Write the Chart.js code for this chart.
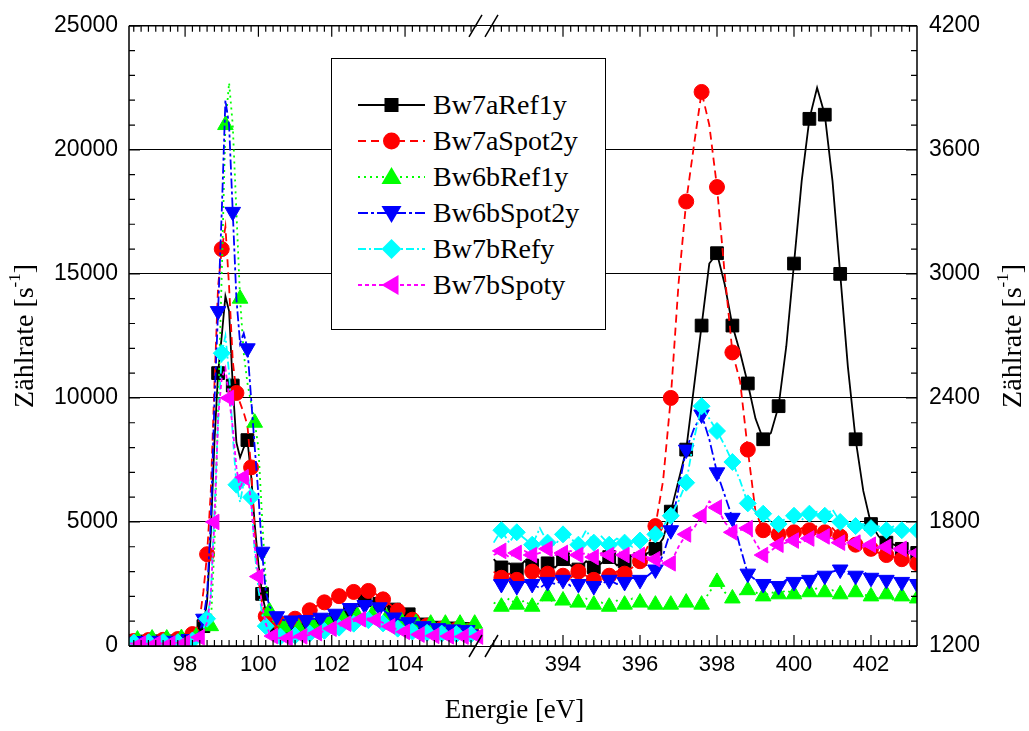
<!DOCTYPE html>
<html lang="de">
<head>
<meta charset="UTF-8">
<title>Zählrate C 1s / N 1s</title>
<style>
  body { margin: 0; background: #fff; }
  #wrap { position: relative; width: 1029px; height: 731px; }
  #grafik { position: absolute; left: 0; top: 0; }
  #legende {
    position: absolute; left: 331px; top: 58px; width: 273px; height: 270px;
    border: 1.5px solid #000; background: #fff;
    font-family: "Liberation Serif", "Times New Roman", serif; font-size: 28px; color: #000;
  }
  .zeile { position: absolute; left: 26px; height: 36px; display: flex; align-items: center; white-space: nowrap; }
  .zeile svg { width: 67px; height: 26px; margin-right: 8px; flex: none; }
</style>
</head>
<body>
<div id="wrap">
  <canvas id="grafik" width="1029" height="731"></canvas>
  <div id="legende"></div>
</div>
<script src="https://cdn.jsdelivr.net/npm/chart.js@4.4.1/dist/chart.umd.min.js"></script>
<script>
// Energiewerte (eV) der beiden Ausschnitte
const energieLinks = [
  96.5,96.6,96.7,96.8,96.9,97.0,97.1,97.2,97.3,97.4,
  97.5,97.6,97.7,97.8,97.9,98.0,98.1,98.2,98.3,98.4,
  98.5,98.6,98.7,98.8,98.9,99.0,99.1,99.2,99.3,99.4,
  99.5,99.6,99.7,99.8,99.9,100.0,100.1,100.2,100.3,100.4,
  100.5,100.6,100.7,100.8,100.9,101.0,101.1,101.2,101.3,101.4,
  101.5,101.6,101.7,101.8,101.9,102.0,102.1,102.2,102.3,102.4,
  102.5,102.6,102.7,102.8,102.9,103.0,103.1,103.2,103.3,103.4,
  103.5,103.6,103.7,103.8,103.9,104.0,104.1,104.2,104.3,104.4,
  104.5,104.6,104.7,104.8,104.9,105.0,105.1,105.2,105.3,105.4,
  105.5,105.6,105.7,105.8,105.9,106.0
];
const energieRechts = [
  392.2,392.4,392.6,392.8,393.0,393.2,393.4,393.6,393.8,394.0,
  394.2,394.4,394.6,394.8,395.0,395.2,395.4,395.6,395.8,396.0,
  396.2,396.4,396.6,396.8,397.0,397.2,397.4,397.6,397.8,398.0,
  398.2,398.4,398.6,398.8,399.0,399.2,399.4,399.6,399.8,400.0,
  400.2,400.4,400.6,400.8,401.0,401.2,401.4,401.6,401.8,402.0,
  402.2,402.4,402.6,402.8,403.0,403.2
];

const namen = ['Bw7aRef1y', 'Bw7aSpot2y', 'Bw6bRef1y', 'Bw6bSpot2y', 'Bw7bRefy', 'Bw7bSpoty'];

// Zählraten linker Bereich (linke Achse, s^-1)
const linksBw7aRef1y = [
  210,190,220,200,180,210,230,200,190,220,
  200,210,190,230,210,220,240,260,300,400,
  800,1800,4500,8200,11000,12500,14100,13500,10500,8200,
  7600,8000,8300,6900,4900,3300,2100,1400,1000,850,
  750,700,680,660,650,650,660,680,710,740,
  780,820,860,910,960,1010,1060,1110,1170,1260,
  1400,1540,1700,1800,1840,1850,1820,1760,1700,1660,
  1600,1540,1470,1420,1380,1350,1280,1180,1060,950,
  870,810,780,760,740,730,720,720,710,700,
  700,690,690,680,690,680
];
const linksBw7aSpot2y = [
  220,200,230,210,200,240,220,210,230,250,
  240,260,250,280,300,320,380,480,640,1100,
  2200,3700,6200,10500,14500,16000,16900,14500,11500,10200,
  9800,9400,8900,7200,4600,2700,1700,1200,1000,920,
  880,900,930,980,1040,1100,1160,1250,1350,1440,
  1530,1620,1700,1760,1830,1900,1960,2010,2060,2100,
  2140,2180,2210,2240,2240,2220,2180,2100,2000,1880,
  1780,1660,1540,1420,1320,1220,1130,1060,1000,940,
  880,820,780,750,720,700,690,680,670,660,
  650,650,640,640,630,630
];
const linksBw6bRef1y = [
  280,300,260,290,310,270,300,280,320,290,
  300,280,310,290,320,300,330,340,380,450,
  600,750,800,4000,9500,15000,21000,22700,21000,17500,
  14000,11800,10600,9800,9000,8000,5200,2600,1400,1000,
  850,780,740,720,710,700,710,720,740,760,
  790,820,860,900,950,1000,1040,1080,1110,1140,
  1170,1200,1220,1240,1250,1260,1250,1230,1200,1170,
  1140,1100,1070,1040,1010,990,970,950,930,920,
  910,900,900,890,890,890,900,890,900,900,
  900,910,900,910,900,910
];
const linksBw6bSpot2y = [
  180,200,190,210,200,190,220,200,210,190,
  200,220,210,230,240,260,280,320,380,600,
  1100,2100,5000,9800,13500,17500,22000,21000,17500,14000,
  12200,12600,12000,10000,8000,6100,3800,2200,1600,1400,
  1200,1080,1040,1030,1030,1040,1040,1040,1050,1070,
  1090,1110,1140,1170,1210,1250,1300,1350,1420,1480,
  1530,1570,1600,1630,1650,1650,1650,1640,1560,1460,
  1340,1240,1150,1080,1040,1000,960,930,900,850,
  800,760,740,730,720,710,700,690,670,650,
  640,640,640,640,640,640
];
const linksBw7bRefy = [
  150,140,160,150,130,150,160,140,150,160,
  150,170,160,150,170,180,200,220,260,400,
  700,1100,2000,5500,9000,11800,12500,11000,8500,6500,
  5800,6600,7000,6000,3800,2300,1300,800,550,450,
  400,380,380,390,400,420,440,460,480,500,
  520,550,580,610,640,670,700,740,780,820,
  860,900,940,980,1010,1040,1030,1000,960,910,
  860,800,750,700,660,630,600,580,560,550,
  540,530,520,510,500,500,490,490,480,480,
  480,470,480,470,480,470
];
const linksBw7bSpoty = [
  100,90,110,100,80,100,110,90,100,110,
  100,90,110,100,120,130,150,180,220,350,
  600,950,2000,5000,9200,10800,11200,10000,8800,7200,
  6300,6800,7000,5800,4000,2800,1600,900,520,400,
  340,320,310,310,320,340,360,390,420,450,
  480,520,560,600,650,700,750,800,850,900,
  950,1000,1050,1080,1100,1110,1090,1050,1000,930,
  860,790,720,660,610,570,530,500,480,460,
  440,430,420,410,400,400,390,390,380,380,
  380,380,370,380,370,380
];

// Zählraten rechter Bereich (rechte Achse, s^-1)
const rechtsBw7aRef1y = [
  1620,1580,1600,1570,1610,1590,1560,1600,1580,1620,
  1590,1570,1610,1580,1600,1630,1590,1610,1640,1620,
  1650,1670,1720,1850,2000,2150,2450,2750,3050,3100,
  2950,2750,2620,2470,2300,2200,2230,2360,2650,3050,
  3450,3750,3900,3770,3450,3000,2550,2200,1950,1790,
  1730,1700,1690,1670,1660,1650
];
const rechtsBw7aSpot2y = [
  1560,1530,1550,1520,1540,1560,1530,1550,1520,1540,
  1530,1560,1540,1520,1550,1540,1560,1550,1580,1610,
  1680,1780,2000,2400,2950,3350,3620,3880,3720,3420,
  3000,2620,2480,2150,1850,1760,1730,1740,1760,1750,
  1770,1760,1780,1750,1770,1730,1710,1690,1680,1670,
  1650,1640,1630,1620,1610,1600
];
const rechtsBw6bRef1y = [
  1410,1390,1430,1400,1420,1390,1410,1440,1400,1420,
  1390,1410,1430,1400,1410,1390,1420,1400,1430,1410,
  1390,1400,1380,1400,1390,1410,1380,1400,1460,1510,
  1460,1430,1450,1470,1460,1440,1460,1450,1470,1450,
  1440,1460,1480,1460,1470,1450,1440,1460,1450,1440,
  1430,1450,1420,1440,1420,1430
];
const rechtsBw6bSpot2y = [
  1520,1500,1530,1490,1510,1500,1480,1510,1500,1520,
  1490,1500,1510,1490,1500,1520,1500,1510,1530,1520,
  1540,1570,1640,1760,1960,2150,2250,2320,2200,2040,
  1930,1820,1680,1550,1520,1500,1510,1490,1520,1510,
  1530,1520,1550,1540,1560,1570,1550,1540,1560,1530,
  1540,1520,1530,1510,1520,1500
];
const rechtsBw7bRefy = [
  1700,1760,1700,1750,1720,1690,1770,1700,1690,1740,
  1720,1690,1760,1700,1730,1690,1720,1700,1680,1710,
  1710,1740,1780,1830,1900,1990,2200,2360,2300,2240,
  2170,2090,2000,1890,1850,1840,1800,1790,1820,1830,
  1810,1840,1850,1830,1860,1800,1790,1780,1790,1770,
  1780,1760,1780,1760,1770,1760
];
const rechtsBw7bSpoty = [
  1640,1660,1630,1650,1660,1640,1650,1670,1640,1650,
  1660,1640,1650,1630,1650,1640,1660,1640,1630,1640,
  1630,1620,1610,1600,1680,1740,1770,1830,1900,1870,
  1800,1750,1760,1770,1700,1640,1660,1690,1700,1710,
  1700,1720,1740,1730,1720,1700,1690,1700,1680,1690,
  1670,1680,1660,1670,1660,1650
];

const werteLinks = [linksBw7aRef1y, linksBw7aSpot2y, linksBw6bRef1y, linksBw6bSpot2y, linksBw7bRefy, linksBw7bSpoty];
const werteRechts = [rechtsBw7aRef1y, rechtsBw7aSpot2y, rechtsBw6bRef1y, rechtsBw6bSpot2y, rechtsBw7bRefy, rechtsBw7bSpoty];

// Achsenbeschriftungen
const tickLinks = [98, 100, 102, 104];
const tickRechts = [394, 396, 398, 400, 402];
const tickYLinks = [0, 5000, 10000, 15000, 20000, 25000];
const tickYRechts = [1200, 1800, 2400, 3000, 3600, 4200];

// Linien- und Symbolstil je Messreihe
const stile = [
  { farbe: '#000000', strich: [],           form: 'rect',     drehung: 0,   radius: 9,   phase: 0, svgStrich: '' },
  { farbe: '#ff0000', strich: [8, 5],       form: 'circle',   drehung: 0,   radius: 7.5, phase: 1, svgStrich: '8 5' },
  { farbe: '#00ff00', strich: [2, 4],       form: 'triangle', drehung: 0,   radius: 9,   phase: 2, svgStrich: '2 4' },
  { farbe: '#0000ff', strich: [10, 3, 3, 3], form: 'triangle', drehung: 180, radius: 9,   phase: 0, svgStrich: '10 3 3 3' },
  { farbe: '#00ffff', strich: [8, 3, 2, 3], form: 'rectRot',  drehung: 0,   radius: 8.5, phase: 1, svgStrich: '8 3 2 3' },
  { farbe: '#ff00ff', strich: [4, 3],       form: 'triangle', drehung: -90, radius: 9,   phase: 3, svgStrich: '4 3' }
];

const sans = "'Liberation Sans', Arial, sans-serif";
const serif = "'Liberation Serif', 'Times New Roman', serif";

const datensaetze = [];
namen.forEach((name, s) => {
  const st = stile[s];
  const basis = {
    label: name,
    borderColor: st.farbe,
    backgroundColor: st.farbe,
    pointBackgroundColor: st.farbe,
    pointBorderColor: st.farbe,
    pointBorderWidth: 1,
    borderWidth: 1.8,
    borderDash: st.strich,
    pointStyle: st.form,
    pointRotation: st.drehung,
    tension: 0,
    fill: false,
    order: namen.length - s
  };
  datensaetze.push(Object.assign({}, basis, {
    xAxisID: 'xL', yAxisID: 'yL',
    data: energieLinks.map((e, i) => ({ x: e, y: werteLinks[s][i] })),
    pointRadius: c => (c.dataIndex % 4 === st.phase ? st.radius : 0)
  }));
  datensaetze.push(Object.assign({}, basis, {
    xAxisID: 'xR', yAxisID: 'yR',
    data: energieRechts.map((e, i) => ({ x: e, y: werteRechts[s][i] })),
    pointRadius: c => (c.dataIndex % 2 === 1 ? st.radius : 0)
  }));
});

function energieAchse(min, max, gewicht, ticks) {
  return {
    type: 'linear', position: 'bottom', stack: 'energie', stackWeight: gewicht,
    min: min, max: max,
    afterBuildTicks: sc => { sc.ticks = ticks.map(v => ({ value: v })); },
    afterFit: sc => { sc.height = 48.6; },
    grid: { display: false, drawTicks: false },
    border: { display: false },
    ticks: { autoSkip: false, maxRotation: 0, padding: 6, color: '#000',
             font: { family: sans, size: 22 }, callback: v => String(v) }
  };
}

// y-Titel mit hochgestelltem Exponenten
function zaehlrateTitel(ctx, x, y) {
  const f1 = '28px ' + serif, f2 = '17px ' + serif;
  ctx.save();
  ctx.translate(x, y);
  ctx.rotate(-Math.PI / 2);
  ctx.fillStyle = '#000';
  ctx.textBaseline = 'alphabetic';
  ctx.font = f1; const w1 = ctx.measureText('Zählrate [s').width;
  ctx.font = f2; const w2 = ctx.measureText('-1').width;
  ctx.font = f1; const w3 = ctx.measureText(']').width;
  let px = -(w1 + w2 + w3) / 2;
  ctx.font = f1; ctx.fillText('Zählrate [s', px, 9); px += w1;
  ctx.font = f2; ctx.fillText('-1', px, -4); px += w2;
  ctx.font = f1; ctx.fillText(']', px, 9);
  ctx.restore();
}

// Rahmen mit Achsenbruch, nach innen zeigende Ticks und y-Titel
const rahmen = {
  id: 'rahmen',
  afterDraw(chart) {
    const { ctx, chartArea: a } = chart;
    const { xL, xR, yL, yR } = chart.scales;
    const grenze = xL.right;
    const endeL = grenze - 6.5, startR = grenze + 6.5;
    ctx.save();
    ctx.strokeStyle = '#000';
    ctx.lineWidth = 1.5;
    ctx.beginPath();
    ctx.moveTo(a.left, a.top); ctx.lineTo(a.left, a.bottom);
    ctx.moveTo(a.right, a.top); ctx.lineTo(a.right, a.bottom);
    for (const y of [a.top, a.bottom]) {
      ctx.moveTo(a.left, y); ctx.lineTo(endeL, y);
      ctx.moveTo(startR, y); ctx.lineTo(a.right, y);
    }
    ctx.stroke();

    ctx.lineWidth = 1.2;
    ctx.beginPath();
    const xTick = (px, len) => {
      ctx.moveTo(px, a.bottom); ctx.lineTo(px, a.bottom - len);
      ctx.moveTo(px, a.top); ctx.lineTo(px, a.top + len);
    };
    for (let k = 483; k <= 531; k++) {
      const px = xL.getPixelForValue(k / 5);
      if (px < a.left || px > endeL) continue;
      xTick(px, k % 10 === 0 ? 11 : 6);
    }
    for (let k = 1958; k <= 2016; k++) {
      const px = xR.getPixelForValue(k / 5);
      if (px < startR || px > a.right) continue;
      xTick(px, k % 10 === 0 ? 11 : 6);
    }
    for (let k = 0; k <= 25; k++) {
      const py = yL.getPixelForValue(k * 1000);
      ctx.moveTo(a.left, py); ctx.lineTo(a.left + (k % 5 === 0 ? 11 : 6), py);
    }
    for (let k = 0; k <= 25; k++) {
      const py = yR.getPixelForValue(1200 + k * 120);
      ctx.moveTo(a.right, py); ctx.lineTo(a.right - (k % 5 === 0 ? 11 : 6), py);
    }
    ctx.stroke();

    // Bruchzeichen oben und unten
    ctx.lineWidth = 1.5;
    ctx.beginPath();
    for (const y of [a.top, a.bottom]) {
      for (const dx of [-8, 8]) {
        ctx.moveTo(grenze + dx - 6.5, y + 11);
        ctx.lineTo(grenze + dx + 6.5, y - 11);
      }
    }
    ctx.stroke();
    ctx.restore();

    const mitteY = (a.top + a.bottom) / 2;
    zaehlrateTitel(ctx, 24, mitteY);
    zaehlrateTitel(ctx, 1012, mitteY);
  }
};

new Chart(document.getElementById('grafik'), {
  type: 'line',
  data: { datasets: datensaetze },
  options: {
    responsive: false,
    animation: false,
    events: [],
    layout: { padding: { top: 22 } },
    plugins: {
      legend: { display: false },
      tooltip: { enabled: false },
      title: {
        display: true, position: 'bottom', text: 'Energie [eV]', color: '#000',
        font: { family: serif, size: 27, weight: 'normal' },
        padding: { top: 0, bottom: 4 }
      }
    },
    scales: {
      xL: energieAchse(96.47, 106.14, 354.5, tickLinks),
      xR: energieAchse(391.935, 403.195, 433.5, tickRechts),
      yL: {
        type: 'linear', position: 'left', min: 0, max: 25000,
        afterBuildTicks: sc => { sc.ticks = tickYLinks.map(v => ({ value: v })); },
        afterFit: sc => { sc.width = 129; },
        grid: { color: '#000', lineWidth: 1, drawTicks: false },
        border: { display: false },
        ticks: { padding: 11, color: '#000', font: { family: sans, size: 23 }, callback: v => String(v) }
      },
      yR: {
        type: 'linear', position: 'right', min: 1200, max: 4200,
        afterBuildTicks: sc => { sc.ticks = tickYRechts.map(v => ({ value: v })); },
        afterFit: sc => { sc.width = 112; },
        grid: { drawOnChartArea: false, drawTicks: false },
        border: { display: false },
        ticks: { padding: 12, color: '#000', font: { family: sans, size: 23 }, callback: v => String(v) }
      }
    }
  },
  plugins: [rahmen]
});

// Legende als HTML mit Linien- und Symbolmuster
function symbolSvg(s, cx, cy) {
  const f = stile[s].farbe;
  const p = pts => '<polygon points="' + pts.map(q => q.join(',')).join(' ') + '" fill="' + f + '"/>';
  switch (s) {
    case 0: return '<rect x="' + (cx - 7) + '" y="' + (cy - 7) + '" width="14" height="14" fill="' + f + '"/>';
    case 1: return '<circle cx="' + cx + '" cy="' + cy + '" r="8.5" fill="' + f + '"/>';
    case 2: return p([[cx, cy - 10], [cx + 10, cy + 7], [cx - 10, cy + 7]]);
    case 3: return p([[cx - 10, cy - 7], [cx + 10, cy - 7], [cx, cy + 10]]);
    case 4: return p([[cx, cy - 10], [cx + 10, cy], [cx, cy + 10], [cx - 10, cy]]);
    default: return p([[cx - 10, cy], [cx + 7, cy - 10], [cx + 7, cy + 10]]);
  }
}
const legende = document.getElementById('legende');
namen.forEach((name, s) => {
  const st = stile[s];
  const zeile = document.createElement('div');
  zeile.className = 'zeile';
  zeile.style.top = (27.5 + s * 36) + 'px';
  zeile.innerHTML =
    '<svg viewBox="0 0 67 26"><line x1="0" y1="13" x2="67" y2="13" stroke="' + st.farbe +
    '" stroke-width="2"' + (st.svgStrich ? ' stroke-dasharray="' + st.svgStrich + '"' : '') + '/>' +
    symbolSvg(s, 33.5, 13) + '</svg><span>' + name + '</span>';
  legende.appendChild(zeile);
});
</script>
</body>
</html>
